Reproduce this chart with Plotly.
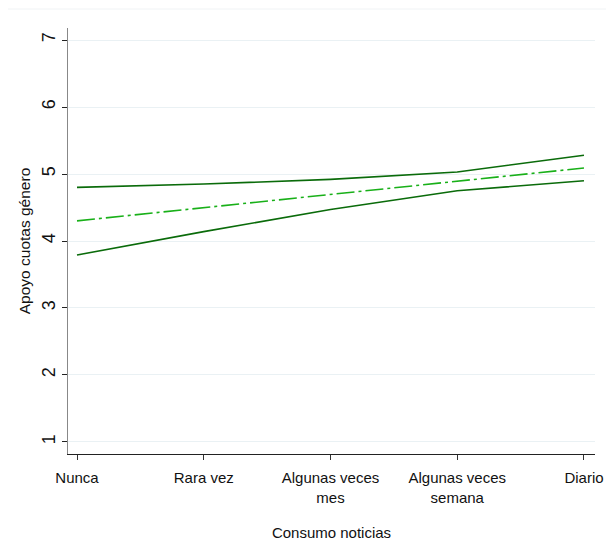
import plotly.graph_objects as go

categories = ["Nunca", "Rara vez", "Algunas veces\nmes", "Algunas veces\nsemana", "Diario"]
upper = [4.80, 4.85, 4.92, 5.03, 5.28]
middle = [4.30, 4.50, 4.69, 4.89, 5.09]
lower = [3.79, 4.14, 4.47, 4.75, 4.90]
y_ticks = [1, 2, 3, 4, 5, 6, 7]

xpos = list(range(len(categories)))
line1 = [c.split("\n")[0] for c in categories]
line2 = [c.split("\n")[1] if "\n" in c else " " for c in categories]

dark = "#0a6b0a"
light = "#19b019"
font = "Liberation Sans, Arial, sans-serif"
fs = 15

fig = go.Figure()
fig.add_trace(go.Scatter(x=xpos, y=upper, mode="lines", line=dict(color=dark, width=1.6), showlegend=False))
fig.add_trace(go.Scatter(x=xpos, y=lower, mode="lines", line=dict(color=dark, width=1.6), showlegend=False))
fig.add_trace(go.Scatter(x=xpos, y=middle, mode="lines",
                         line=dict(color=light, width=1.6, dash="18px,4px,3px,4px"), showlegend=False))
# invisible trace to activate the secondary x axis (second line of tick labels)
fig.add_trace(go.Scatter(x=xpos, y=middle, xaxis="x2", mode="none", hoverinfo="skip", showlegend=False))

fig.update_layout(
    width=606, height=543,
    margin=dict(l=68, r=11, t=28, b=89),
    paper_bgcolor="white", plot_bgcolor="white",
    font=dict(family=font, size=fs, color="#111"),
    xaxis=dict(
        range=[-0.071, 4.087], tickmode="array", tickvals=xpos, ticktext=line1,
        showline=True, linecolor="#222", linewidth=1.2, ticks="outside", ticklen=5,
        tickcolor="#333", showgrid=False, zeroline=False, automargin=False,
        tickfont=dict(size=fs), ticklabelstandoff=5, ticklabeloverflow="allow",
        title=dict(text="Consumo noticias", standoff=42, font=dict(size=fs)),
    ),
    xaxis2=dict(
        range=[-0.071, 4.087], tickmode="array", tickvals=xpos, ticktext=line2,
        overlaying="x", side="bottom", anchor="y", showline=False, ticks="",
        showgrid=False, zeroline=False, automargin=False,
        tickfont=dict(size=fs), ticklabelstandoff=33, ticklabeloverflow="allow",
    ),
    yaxis=dict(
        range=[0.82, 7.18], tickmode="array", tickvals=y_ticks,
        ticktext=[str(v) for v in y_ticks], tickangle=-90,
        showline=True, linecolor="#888", linewidth=1.2, ticks="outside", ticklen=5,
        tickcolor="#222", showgrid=True, gridcolor="#eaf1f4", gridwidth=1, zeroline=False,
        automargin=False, tickfont=dict(size=18), ticklabelstandoff=0,
        title=dict(text="Apoyo cuotas género", standoff=4, font=dict(size=15.5)),
    ),
    shapes=[dict(type="line", xref="paper", yref="paper", x0=-0.114, x1=1.03,
                 y0=1.0446, y1=1.0446, line=dict(color="#f0f3f5", width=1))],
)

fig.write_html("out.html", config={"displayModeBar": False},
               post_script="document.body.style.margin='0';")
